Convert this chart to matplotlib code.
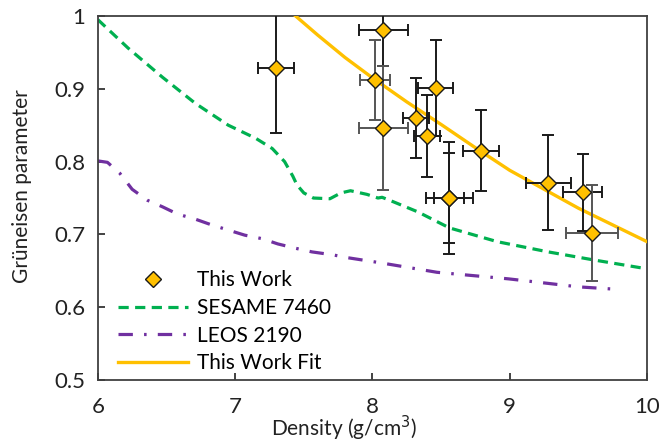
import matplotlib
matplotlib.use("Agg")
import matplotlib.pyplot as plt
import numpy as np

plt.rcParams['font.family'] = ['Lato', 'DejaVu Sans']

# Data points (This Work)
pt_density = [7.30, 8.08, 8.08, 8.02, 8.46, 8.32, 8.40, 8.56, 8.56, 8.79, 9.28, 9.53, 9.60]
pt_gamma   = [0.929, 0.981, 0.846, 0.912, 0.901, 0.860, 0.835, 0.750, 0.750, 0.815, 0.771, 0.758, 0.702]
pt_xerr    = [0.13, 0.18, 0.18, 0.11, 0.13, 0.095, 0.095, 0.17, 0.11, 0.128, 0.165, 0.14, 0.19]
pt_yerr    = [0.09, 0.05, 0.085, 0.055, 0.066, 0.055, 0.056, 0.077, 0.062, 0.056, 0.065, 0.053, 0.066]
pt_ecolor  = ['#1a1a1a', '#1a1a1a', '#555555', '#555555', '#1a1a1a', '#1a1a1a', '#1a1a1a',
              '#1a1a1a', '#1a1a1a', '#1a1a1a', '#1a1a1a', '#1a1a1a', '#555555']

# SESAME 7460
ses_density = [6.00, 6.22, 6.47, 6.71, 6.95, 7.15, 7.27, 7.36, 7.42, 7.45, 7.50, 7.57, 7.69,
               7.77, 7.84, 7.96, 8.04, 8.07, 8.15, 8.33, 8.56, 8.91, 9.28, 9.61, 9.96]
ses_gamma   = [0.995, 0.956, 0.916, 0.880, 0.850, 0.832, 0.818, 0.800, 0.780, 0.768, 0.757, 0.750, 0.749,
               0.757, 0.760, 0.755, 0.750, 0.751, 0.745, 0.731, 0.709, 0.690, 0.676, 0.665, 0.654]

# LEOS 2190
leos_density = [6.00, 6.07, 6.16, 6.25, 6.36, 6.47, 6.58, 6.71, 6.83, 6.95, 7.07, 7.20, 7.31,
                7.44, 7.56, 7.71, 7.82, 8.06, 8.47, 8.99, 9.50, 9.75]
leos_gamma   = [0.801, 0.799, 0.784, 0.762, 0.747, 0.738, 0.728, 0.721, 0.713, 0.706, 0.699, 0.694, 0.687,
                0.681, 0.676, 0.672, 0.668, 0.661, 0.648, 0.639, 0.628, 0.625]

# This Work Fit
fit_density = [7.44, 7.60, 7.80, 8.00, 8.25, 8.50, 8.75, 9.00, 9.25, 9.50, 9.75, 10.00]
fit_gamma   = [1.000, 0.974, 0.943, 0.915, 0.882, 0.851, 0.819, 0.788, 0.762, 0.736, 0.713, 0.690]

xticks = [6, 7, 8, 9, 10]
yticks = [0.5, 0.6, 0.7, 0.8, 0.9, 1.0]
yticklabels = ['0.5', '0.6', '0.7', '0.8', '0.9', '1']

fig = plt.figure(figsize=(6.61, 4.44), dpi=100)
ax = fig.add_axes([0.148, 0.144, 0.831, 0.820])

ax.plot(ses_density, ses_gamma, color='#00B050', lw=2.3, dashes=(3.2, 2.0), label='SESAME 7460', zorder=2)
ax.plot(leos_density, leos_gamma, color='#7030A0', lw=2.3, dashes=(4.5, 3.5, 0.8, 3.5), label='LEOS 2190', zorder=2)
ax.plot(fit_density, fit_gamma, color='#FFC000', lw=2.4, label='This Work Fit', zorder=3)

for i in range(len(pt_density)):
    ax.errorbar(pt_density[i], pt_gamma[i], xerr=pt_xerr[i], yerr=pt_yerr[i],
                fmt='none', ecolor=pt_ecolor[i], elinewidth=1.4, capsize=4.5, capthick=1.4, zorder=4)
ax.plot(pt_density, pt_gamma, linestyle='none', marker='D', markersize=8.5,
        markerfacecolor='#FFC000', markeredgecolor='#1a1a1a', markeredgewidth=1.0,
        label='This Work', zorder=5)

ax.set_xlim(6, 10)
ax.set_ylim(0.5, 1.0)
ax.set_xticks(xticks)
ax.set_xticklabels([str(t) for t in xticks])
ax.set_yticks(yticks)
ax.set_yticklabels(yticklabels)
ax.tick_params(direction='in', length=5, width=1.2, labelsize=16, colors='#222222')
ax.tick_params(axis='x', pad=12)
ax.tick_params(axis='y', pad=9)
for s in ax.spines.values():
    s.set_color('#404040')
    s.set_linewidth(1.3)

fig.text(0.52, 0.036, 'Density (g/cm$^3$)', fontsize=15, ha='center', va='center', color='#222222')
fig.text(0.033, 0.58, 'Grüneisen parameter', fontsize=15, rotation=90, ha='center', va='center', color='#222222')

handles, labels = ax.get_legend_handles_labels()
order = [3, 0, 1, 2]
ax.legend([handles[i] for i in order], [labels[i] for i in order], loc='lower left',
          bbox_to_anchor=(0.003, -0.033), frameon=False, fontsize=15, handlelength=3.37,
          labelspacing=0.37, handletextpad=0.43)

fig.savefig('out.png', dpi=100)
